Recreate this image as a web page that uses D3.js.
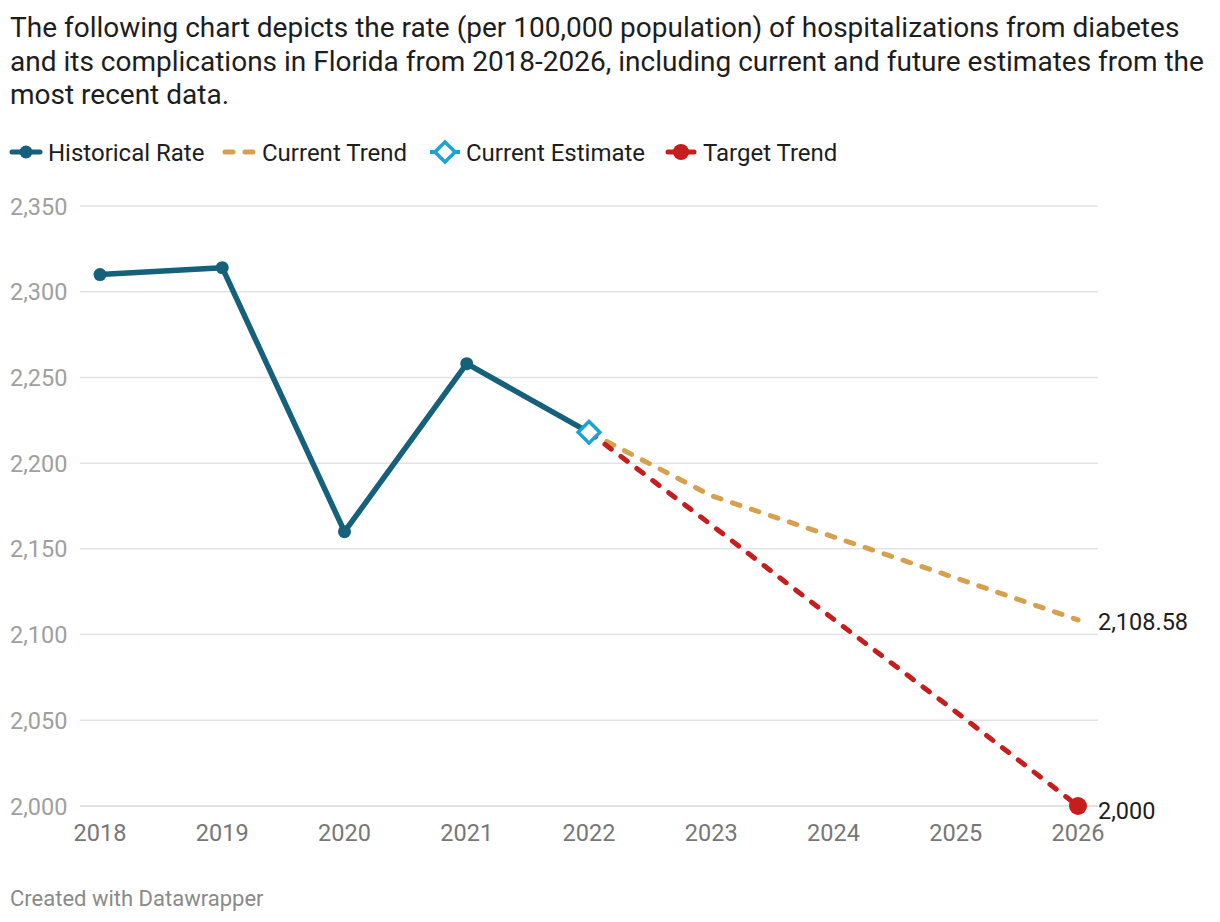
<!DOCTYPE html>
<html>
<head>
<meta charset="utf-8">
<script src="https://cdn.jsdelivr.net/npm/d3@7"></script>
<style>
  body { margin: 0; background: #fff; font-family: Roboto, sans-serif; }
  svg { display: block; }
</style>
</head>
<body>
<svg width="1220" height="922"></svg>
<script>
const years = [2018, 2019, 2020, 2021, 2022, 2023, 2024, 2025, 2026];
const histYears = [2018, 2019, 2020, 2021, 2022];
const histRate = [2310, 2314, 2160, 2258, 2218];
const trendYears = [2022, 2023, 2024, 2025, 2026];
const currentTrend = [2218, 2181, 2157, 2133, 2108.58];
const targetTrend = [2218, 2164, 2109, 2055, 2000];
const yTicks = [2000, 2050, 2100, 2150, 2200, 2250, 2300, 2350];
const titleLines = [
  "The following chart depicts the rate (per 100,000 population) of hospitalizations from diabetes",
  "and its complications in Florida from 2018-2026, including current and future estimates from the",
  "most recent data."
];

const colors = { hist: "#15607a", current: "#d6a04e", estimate: "#1ba3d6", target: "#c71e1d" };

const svg = d3.select("svg");

const x = d3.scaleLinear().domain([2018, 2026]).range([100, 1078]);
const y = d3.scaleLinear().domain([2000, 2350]).range([806, 206]);

// title
svg.append("text")
  .attr("x", 10).attr("y", 37)
  .attr("font-size", 28).attr("fill", "#1d1d1d")
  .selectAll("tspan")
  .data(titleLines)
  .enter().append("tspan")
  .attr("x", 10)
  .attr("dy", (d, i) => i === 0 ? 0 : 33.5)
  .text(d => d);

// gridlines + y labels
svg.append("g").selectAll("line")
  .data(yTicks)
  .enter().append("line")
  .attr("x1", 80).attr("x2", 1098)
  .attr("y1", d => y(d)).attr("y2", d => y(d))
  .attr("stroke", d => d === 2000 ? "#d9d9d9" : "#e3e3e3")
  .attr("stroke-width", 1.5);

svg.append("g").selectAll("text")
  .data(yTicks)
  .enter().append("text")
  .attr("x", 10).attr("y", d => y(d) + 8.5)
  .attr("font-size", 23.5).attr("fill", "#a0a0a0")
  .text(d3.format(","));

// x labels
svg.append("g").selectAll("text")
  .data(years)
  .enter().append("text")
  .attr("x", d => x(d)).attr("y", 840.5)
  .attr("text-anchor", "middle")
  .attr("font-size", 23.5).attr("fill", "#777")
  .text(d => d);

const line = d3.line().x(d => x(d[0])).y(d => y(d[1]));

// trend lines
svg.append("path")
  .datum(d3.zip(trendYears, currentTrend))
  .attr("d", line)
  .attr("fill", "none").attr("stroke", colors.current)
  .attr("stroke-width", 5).attr("stroke-dasharray", "8,12")
  .attr("stroke-linecap", "round");

svg.append("path")
  .datum(d3.zip(trendYears, targetTrend))
  .attr("d", line)
  .attr("fill", "none").attr("stroke", colors.target)
  .attr("stroke-width", 5).attr("stroke-dasharray", "8,12")
  .attr("stroke-linecap", "round");

// historical
const hist = d3.zip(histYears, histRate);
svg.append("path")
  .datum(hist)
  .attr("d", line)
  .attr("fill", "none").attr("stroke", colors.hist)
  .attr("stroke-width", 5.5).attr("stroke-linejoin", "round");

svg.append("g").selectAll("circle")
  .data(hist.slice(0, -1))
  .enter().append("circle")
  .attr("cx", d => x(d[0])).attr("cy", d => y(d[1]))
  .attr("r", 6.5).attr("fill", colors.hist);

// current estimate diamond
const est = hist[hist.length - 1];
svg.append("path")
  .attr("d", d3.symbol(d3.symbolDiamond2, 300)())
  .attr("transform", `translate(${x(est[0])},${y(est[1])})`)
  .attr("fill", "#fff").attr("stroke", colors.estimate).attr("stroke-width", 3.5);

// target end dot
svg.append("circle")
  .attr("cx", x(2026)).attr("cy", y(targetTrend[targetTrend.length - 1]))
  .attr("r", 9).attr("fill", colors.target);

// end labels
svg.append("text")
  .attr("x", 1098).attr("y", y(currentTrend[4]) + 10.5)
  .attr("font-size", 23.5).attr("fill", "#1d1d1d")
  .text(d3.format(",.2f")(currentTrend[4]));
svg.append("text")
  .attr("x", 1098).attr("y", y(targetTrend[4]) + 13)
  .attr("font-size", 23.5).attr("fill", "#1d1d1d")
  .text(d3.format(",")(targetTrend[4]));

// legend
const legend = svg.append("g").attr("transform", "translate(0,152)");
const items = [
  { name: "Historical Rate", x: 10, tx: 48, type: "hist" },
  { name: "Current Trend", x: 222, tx: 262, type: "current" },
  { name: "Current Estimate", x: 430, tx: 466, type: "estimate" },
  { name: "Target Trend", x: 666, tx: 703, type: "target" }
];
items.forEach(it => {
  const g = legend.append("g");
  if (it.type === "hist") {
    g.append("line").attr("x1", it.x + 2).attr("x2", it.x + 30).attr("y1", 0).attr("y2", 0)
      .attr("stroke", colors.hist).attr("stroke-width", 5).attr("stroke-linecap", "round");
    g.append("circle").attr("cx", it.x + 16).attr("cy", 0).attr("r", 6.5).attr("fill", colors.hist);
  } else if (it.type === "current") {
    g.append("line").attr("x1", it.x + 3).attr("x2", it.x + 33).attr("y1", 0).attr("y2", 0)
      .attr("stroke", colors.current).attr("stroke-width", 5).attr("stroke-linecap", "round")
      .attr("stroke-dasharray", "8,12");
  } else if (it.type === "estimate") {
    g.append("line").attr("x1", it.x).attr("x2", it.x + 30).attr("y1", 0).attr("y2", 0)
      .attr("stroke", colors.estimate).attr("stroke-width", 4);
    g.append("path").attr("d", d3.symbol(d3.symbolDiamond2, 260)())
      .attr("transform", `translate(${it.x + 15},0)`)
      .attr("fill", "#fff").attr("stroke", colors.estimate).attr("stroke-width", 3.5);
  } else {
    g.append("line").attr("x1", it.x + 2).attr("x2", it.x + 28).attr("y1", 0).attr("y2", 0)
      .attr("stroke", colors.target).attr("stroke-width", 5).attr("stroke-linecap", "round");
    g.append("circle").attr("cx", it.x + 15).attr("cy", 0).attr("r", 8).attr("fill", colors.target);
  }
  g.append("text").attr("x", it.tx).attr("y", 8.5)
    .attr("font-size", 24).attr("fill", "#1d1d1d").text(it.name);
});

// footer
svg.append("text")
  .attr("x", 10).attr("y", 906)
  .attr("font-size", 22).attr("fill", "#8a8a8a")
  .text("Created with Datawrapper");
</script>
</body>
</html>
